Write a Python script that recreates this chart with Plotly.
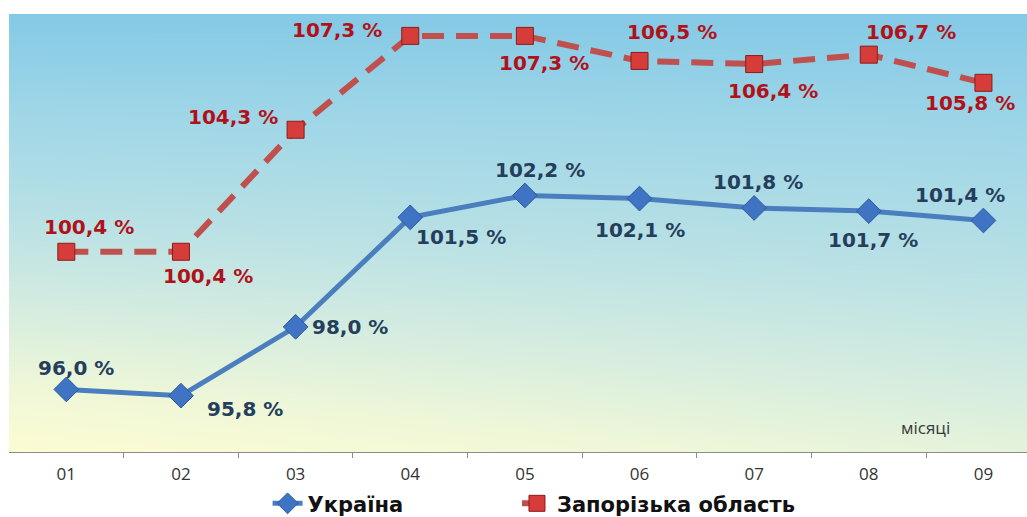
import numpy as np
import plotly.graph_objects as go

# Monthly index values, %
months = ["01", "02", "03", "04", "05", "06", "07", "08", "09"]
ukraine = [96.0, 95.8, 98.0, 101.5, 102.2, 102.1, 101.8, 101.7, 101.4]
zaporizhzhia = [100.4, 100.4, 104.3, 107.3, 107.3, 106.5, 106.4, 106.7, 105.8]

# label offsets (px) relative to each point
ua_offsets = [(10, 21), (64, -13), (54, 0), (51, -20), (15, 25), (0, -31), (4, 26), (4, -29), (-23, 25)]
zp_offsets = [(23, 25), (27, -24), (-63, 13), (-73, 6), (19, -27), (32, 29), (19, -27), (42, 23), (-13, -20)]

X_MIN, X_MAX = -0.5, 8.38
Y_MIN, Y_MAX = 94.0, 108.0

fig = go.Figure()

# soft sky-to-sand backdrop
gx = np.linspace(X_MIN - 0.5, X_MAX + 0.5, 40)
gy = np.linspace(Y_MIN - 0.5, Y_MAX + 0.5, 40)
u = (gx - X_MIN) / (X_MAX - X_MIN)
v = (gy - Y_MIN) / (Y_MAX - Y_MIN)
U, V = np.meshgrid(np.clip(u, 0, 1), np.clip(v, 0, 1))
Z = np.clip(V + 0.22 * U * (1 - V), 0, 1)
fig.add_trace(go.Heatmap(
    x=gx, y=gy, z=Z, zmin=0, zmax=1, zsmooth="best", showscale=False,
    hoverinfo="skip", showlegend=False,
    colorscale=[[0.0, "#fdfcd2"], [0.15, "#eff7d8"], [0.35, "#d2ebe0"],
                [0.55, "#b7e0e5"], [0.8, "#9dd5e7"], [1.0, "#84c9e6"]],
))

xs = list(range(len(months)))

fig.add_trace(go.Scatter(
    x=xs, y=ukraine, mode="lines+markers", name="Україна", legend="legend",
    line=dict(color="#4a7ebf", width=5),
    marker=dict(symbol="diamond", size=19, color="#3f74c4",
                line=dict(color="#2b5a9c", width=1)),
))
fig.add_trace(go.Scatter(
    x=xs, y=zaporizhzhia, mode="lines+markers", name="Запорізька область",
    legend="legend2",
    line=dict(color="#c0504d", width=6, dash="22px,12px"),
    marker=dict(symbol="square", size=17, color="#d63c3a",
                line=dict(color="#8c1c1c", width=1)),
))


def fmt(v):
    return f"{v:.1f}".replace(".", ",") + " %"


label_font = dict(family="DejaVu Sans", size=20, weight="bold")
annotations = []
for i, (val, (dx, dy)) in enumerate(zip(ukraine, ua_offsets)):
    annotations.append(dict(
        x=i, y=val, xref="x", yref="y", text=fmt(val), showarrow=False,
        xshift=dx, yshift=dy, font=dict(label_font, color="#243e5c"),
    ))
for i, (val, (dx, dy)) in enumerate(zip(zaporizhzhia, zp_offsets)):
    annotations.append(dict(
        x=i, y=val, xref="x", yref="y", text=fmt(val), showarrow=False,
        xshift=dx, yshift=dy, font=dict(label_font, color="#b0121a"),
    ))
annotations.append(dict(
    x=0.9, y=0.055, xref="paper", yref="paper", text="місяці", showarrow=False,
    xanchor="center", yanchor="middle",
    font=dict(family="Open Sans", size=17, color="#3a3a3a"),
))

legend_common = dict(
    orientation="h", xanchor="left", y=-0.118, yanchor="middle",
    font=dict(family="DejaVu Sans", size=21, color="#111111", weight="bold"),
    bgcolor="rgba(0,0,0,0)",
)

fig.update_layout(
    width=1027, height=517,
    margin=dict(l=9, r=0, t=14, b=65, autoexpand=False),
    paper_bgcolor="white", plot_bgcolor="white",
    annotations=annotations,
    showlegend=True,
    legend=dict(legend_common, x=0.254),
    legend2=dict(legend_common, x=0.499),
    xaxis=dict(
        range=[X_MIN, X_MAX], tickmode="array", tickvals=xs, ticktext=months,
        showgrid=False, zeroline=False, showline=True, linecolor="#8c8c8c",
        linewidth=1, ticks="", ticklabelstandoff=7,
        tickfont=dict(family="Open Sans", size=17, color="#333333"),
        minor=dict(tickvals=[i + 0.5 for i in xs], ticks="outside",
                   ticklen=5, tickcolor="#8c8c8c", showgrid=False),
    ),
    yaxis=dict(range=[Y_MIN, Y_MAX], visible=False, showgrid=False),
)

fig.write_html("out.html")
